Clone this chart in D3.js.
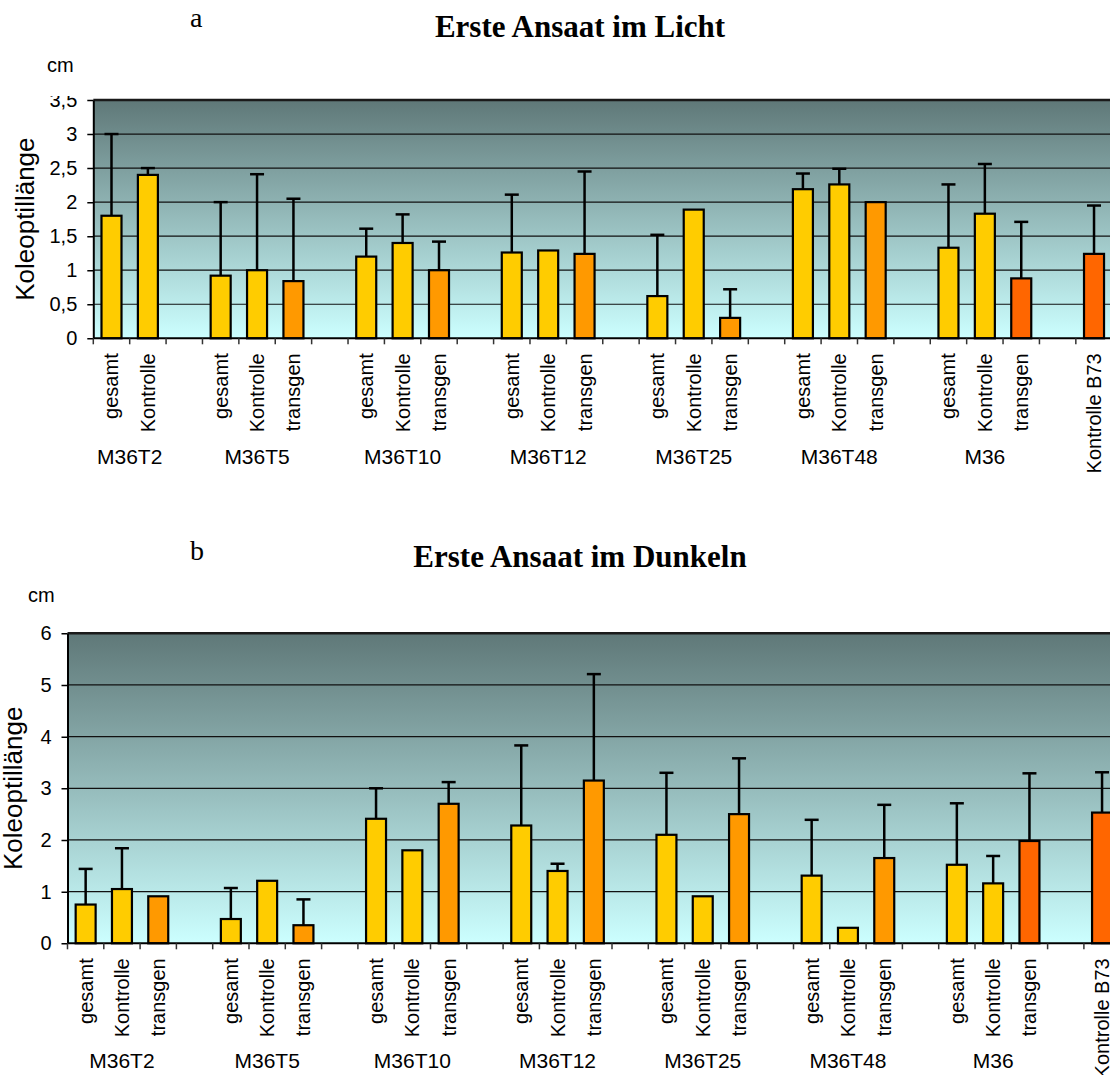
<!DOCTYPE html>
<html>
<head>
<meta charset="utf-8">
<script src="https://cdn.jsdelivr.net/npm/d3@7"></script>
<style>
  body { margin: 0; background: #fff; }
  svg { display: block; }
</style>
</head>
<body>
<script>
// ===== Koleoptillänge: Erste Ansaat im Licht / im Dunkeln =====

// --- chart a: light ---
const lightGroups = ["M36T2", "M36T2",
  "M36T5", "M36T5", "M36T5",
  "M36T10", "M36T10", "M36T10",
  "M36T12", "M36T12", "M36T12",
  "M36T25", "M36T25", "M36T25",
  "M36T48", "M36T48", "M36T48",
  "M36", "M36", "M36",
  "B73"];
const lightLabels = ["gesamt", "Kontrolle",
  "gesamt", "Kontrolle", "transgen",
  "gesamt", "Kontrolle", "transgen",
  "gesamt", "Kontrolle", "transgen",
  "gesamt", "Kontrolle", "transgen",
  "gesamt", "Kontrolle", "transgen",
  "gesamt", "Kontrolle", "transgen",
  "Kontrolle B73"];
const lightMeans = [1.8, 2.4,
  0.92, 1.0, 0.84,
  1.2, 1.4, 1.0,
  1.26, 1.29, 1.24,
  0.62, 1.89, 0.30,
  2.19, 2.26, 2.0,
  1.33, 1.83, 0.88,
  1.24];
const lightSd = [1.2, 0.1,
  1.08, 1.41, 1.21,
  0.41, 0.42, 0.42,
  0.85, 0, 1.21,
  0.9, 0, 0.42,
  0.23, 0.23, 0,
  0.93, 0.73, 0.83,
  0.71];
const lightTicks = [0, 0.5, 1, 1.5, 2, 2.5, 3, 3.5];

// --- chart b: dark ---
const darkGroups = ["M36T2", "M36T2", "M36T2",
  "M36T5", "M36T5", "M36T5",
  "M36T10", "M36T10", "M36T10",
  "M36T12", "M36T12", "M36T12",
  "M36T25", "M36T25", "M36T25",
  "M36T48", "M36T48", "M36T48",
  "M36", "M36", "M36",
  "B73"];
const darkLabels = ["gesamt", "Kontrolle", "transgen",
  "gesamt", "Kontrolle", "transgen",
  "gesamt", "Kontrolle", "transgen",
  "gesamt", "Kontrolle", "transgen",
  "gesamt", "Kontrolle", "transgen",
  "gesamt", "Kontrolle", "transgen",
  "gesamt", "Kontrolle", "transgen",
  "Kontrolle B73"];
const darkMeans = [0.75, 1.05, 0.91,
  0.47, 1.21, 0.35,
  2.41, 1.80, 2.70,
  2.28, 1.40, 3.15,
  2.10, 0.91, 2.50,
  1.31, 0.30, 1.65,
  1.52, 1.16, 1.98,
  2.53];
const darkSd = [0.69, 0.79, 0,
  0.60, 0, 0.50,
  0.59, 0, 0.42,
  1.55, 0.14, 2.06,
  1.20, 0, 1.08,
  1.08, 0, 1.03,
  1.19, 0.53, 1.31,
  0.78];
const darkTicks = [0, 1, 2, 3, 4, 5, 6];

const W = 1110, H = 1075;
const sans = "'Liberation Sans', Arial, sans-serif";
const serif = "'Liberation Serif', 'Times New Roman', serif";
const commaFmt = d => String(d).replace(".", ",");

const svg = d3.select("body").append("svg")
    .attr("width", W)
    .attr("height", H);

const defs = svg.append("defs");
const grad = defs.append("linearGradient")
    .attr("id", "plotBg")
    .attr("x1", 0).attr("y1", 0).attr("x2", 0).attr("y2", 1);
grad.append("stop").attr("offset", 0).attr("stop-color", "#5f7878");
grad.append("stop").attr("offset", 1).attr("stop-color", "#ccffff");

function barColor(d) {
    if (d.label === "Kontrolle B73") return "#ff6600";
    if (d.label === "transgen") return d.group === "M36" ? "#ff6600" : "#ff9900";
    return "#ffcc00";
}

function drawPanel(opt) {
    // build slots, with an empty slot between groups
    const slots = [];
    const bars = [];
    opt.groups.forEach((g, i) => {
        if (i > 0 && g !== opt.groups[i - 1]) slots.push("gap" + i);
        const id = "b" + i;
        slots.push(id);
        bars.push({ id, group: g, label: opt.labels[i], mean: opt.means[i], sd: opt.sd[i] });
    });

    const step = opt.step;
    const xEnd = opt.left + step * slots.length;
    const x = d3.scaleBand()
        .domain(slots)
        .range([opt.left, xEnd])
        .paddingInner(0.45)
        .paddingOuter(0.225);
    const y = d3.scaleLinear()
        .domain([0, opt.max])
        .range([opt.bottom, opt.top]);

    const g = svg.append("g");

    // background
    g.append("rect")
        .attr("x", opt.left).attr("y", y(opt.max))
        .attr("width", xEnd - opt.left)
        .attr("height", y(0) - y(opt.max))
        .attr("fill", "url(#plotBg)");

    // grid lines
    g.selectAll(".grid")
        .data(opt.ticks.filter(t => t > 0 && t < opt.max))
        .join("line")
        .attr("x1", opt.left).attr("x2", xEnd)
        .attr("y1", d => y(d)).attr("y2", d => y(d))
        .attr("stroke", "#111").attr("stroke-width", 1.2);

    // top border
    g.append("line")
        .attr("x1", opt.left).attr("x2", xEnd)
        .attr("y1", y(opt.max)).attr("y2", y(opt.max))
        .attr("stroke", "#1a1a1a").attr("stroke-width", 2.5);

    // bars
    g.selectAll(".bar")
        .data(bars)
        .join("rect")
        .attr("x", d => x(d.id))
        .attr("y", d => y(d.mean))
        .attr("width", x.bandwidth())
        .attr("height", d => y(0) - y(d.mean))
        .attr("fill", barColor)
        .attr("stroke", "#000")
        .attr("stroke-width", 2.2);

    // error bars (upper only)
    const eb = bars.filter(d => d.sd > 0);
    g.selectAll(".err")
        .data(eb)
        .join("line")
        .attr("x1", d => x(d.id) + x.bandwidth() / 2)
        .attr("x2", d => x(d.id) + x.bandwidth() / 2)
        .attr("y1", d => y(d.mean))
        .attr("y2", d => y(d.mean + d.sd))
        .attr("stroke", "#000").attr("stroke-width", 2.5);
    g.selectAll(".cap")
        .data(eb)
        .join("line")
        .attr("x1", d => x(d.id) + x.bandwidth() / 2 - 7)
        .attr("x2", d => x(d.id) + x.bandwidth() / 2 + 7)
        .attr("y1", d => y(d.mean + d.sd))
        .attr("y2", d => y(d.mean + d.sd))
        .attr("stroke", "#000").attr("stroke-width", 2.5);

    // y axis (labels clipped at the top like the original)
    const clipId = "clip" + opt.id;
    defs.append("clipPath").attr("id", clipId)
        .append("rect")
        .attr("x", -opt.left).attr("y", opt.labelClipTop)
        .attr("width", opt.left + 10).attr("height", H);
    const yAxis = g.append("g")
        .attr("transform", `translate(${opt.left},0)`)
        .attr("clip-path", `url(#${clipId})`)
        .call(d3.axisLeft(y).tickValues(opt.ticks).tickFormat(commaFmt)
            .tickSize(6).tickSizeOuter(0).tickPadding(10));
    yAxis.select(".domain").attr("stroke", "#000").attr("stroke-width", 2);
    yAxis.selectAll(".tick line").attr("stroke", "#000").attr("stroke-width", 1.5);
    yAxis.selectAll(".tick text")
        .attr("font-family", sans).attr("font-size", 20).attr("fill", "#000");

    // x axis line and slot ticks
    g.append("line")
        .attr("x1", opt.left).attr("x2", xEnd)
        .attr("y1", y(0)).attr("y2", y(0))
        .attr("stroke", "#000").attr("stroke-width", 2);
    const bounds = slots.map(s => x(s) - x.step() * x.paddingInner() / 2).concat([xEnd]);
    g.selectAll(".xtick")
        .data(bounds)
        .join("line")
        .attr("x1", d => d).attr("x2", d => d)
        .attr("y1", y(0)).attr("y2", y(0) + 6)
        .attr("stroke", "#333").attr("stroke-width", 1.5);

    // category labels (rotated)
    g.selectAll(".xlab")
        .data(bars)
        .join("text")
        .attr("transform", d => `translate(${x(d.id) + x.bandwidth() / 2},${y(0) + 15}) rotate(-90)`)
        .attr("text-anchor", "end")
        .attr("dy", "0.35em")
        .attr("font-family", sans).attr("font-size", 20)
        .text(d => d.label);

    // group labels
    const groupNames = Array.from(new Set(opt.groups)).filter(n => n !== "B73");
    g.selectAll(".glab")
        .data(groupNames)
        .join("text")
        .attr("x", n => {
            const ids = bars.filter(b => b.group === n).map(b => x(b.id));
            return (d3.min(ids) + d3.max(ids) + x.bandwidth()) / 2;
        })
        .attr("y", opt.groupY)
        .attr("text-anchor", "middle")
        .attr("font-family", sans).attr("font-size", 21)
        .text(n => n);

    // axis title, unit, panel title
    g.append("text")
        .attr("transform", `translate(${opt.titleX},${(y(0) + y(opt.max)) / 2}) rotate(-90)`)
        .attr("text-anchor", "middle")
        .attr("font-family", sans).attr("font-size", 26)
        .text("Koleoptillänge");
    g.append("text")
        .attr("x", opt.cmX).attr("y", opt.cmY)
        .attr("font-family", sans).attr("font-size", 20)
        .text("cm");
    g.append("text")
        .attr("x", 190).attr("y", opt.letterY)
        .attr("font-family", serif).attr("font-size", 28)
        .text(opt.letter);
    g.append("text")
        .attr("x", 580).attr("y", opt.headY)
        .attr("text-anchor", "middle")
        .attr("font-family", serif).attr("font-size", 31).attr("font-weight", "bold")
        .text(opt.title);
}

drawPanel({
    id: "a", groups: lightGroups, labels: lightLabels, means: lightMeans, sd: lightSd,
    ticks: lightTicks, max: 3.5, step: 36.39,
    left: 93.3, top: 100, bottom: 338.3, labelClipTop: 96,
    groupY: 464, titleX: 34, cmX: 47, cmY: 72,
    letter: "a", letterY: 27, title: "Erste Ansaat im Licht", headY: 37
});

drawPanel({
    id: "b", groups: darkGroups, labels: darkLabels, means: darkMeans, sd: darkSd,
    ticks: darkTicks, max: 6, step: 36.3,
    left: 67.5, top: 633.3, bottom: 943.3, labelClipTop: 600,
    groupY: 1068, titleX: 22, cmX: 28, cmY: 602,
    letter: "b", letterY: 560, title: "Erste Ansaat im Dunkeln", headY: 567
});
</script>
</body>
</html>
